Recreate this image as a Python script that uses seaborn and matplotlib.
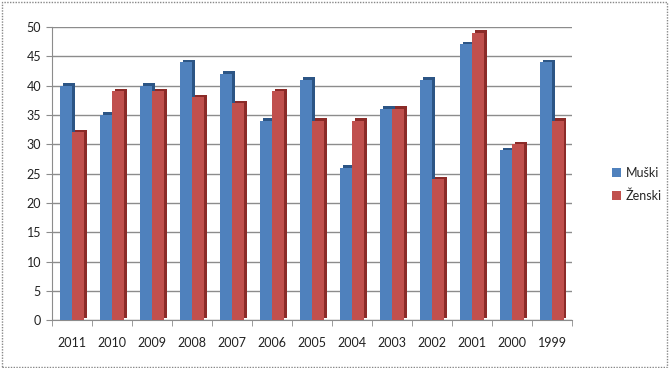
import pandas as pd
import matplotlib
matplotlib.use("Agg")
import matplotlib.pyplot as plt
import matplotlib.transforms as mtransforms
from matplotlib import patches
import seaborn as sns

years = ["2011", "2010", "2009", "2008", "2007", "2006", "2005",
         "2004", "2003", "2002", "2001", "2000", "1999"]
muski = [40, 35, 40, 44, 42, 34, 41, 26, 36, 41, 47, 29, 44]
zenski = [32, 39, 39, 38, 37, 39, 34, 34, 36, 24, 49, 30, 34]
series = ["Muški", "Ženski"]
palette = {"Muški": "#4f81bd", "Ženski": "#c0504d"}
shade = {"Muški": "#2c5585", "Ženski": "#8b2b28"}

df = pd.DataFrame({"year": years * 2,
                   "value": muski + zenski,
                   "series": [series[0]] * len(years) + [series[1]] * len(years)})

sns.set_style("white")
plt.rcParams["font.family"] = ["Lato", "DejaVu Sans"]

fig = plt.figure(figsize=(6.69, 3.68), dpi=100)
ax = fig.add_axes([0.078, 0.130, 0.777, 0.797])

sns.barplot(data=df, x="year", y="value", hue="series", palette=palette,
            order=years, hue_order=series, width=0.6, ax=ax,
            edgecolor="none", saturation=1, legend=True, zorder=3)

# fake 3D depth: darker copy of each bar shifted up/right
offset = mtransforms.ScaledTranslation(2.5 / 100, 2.5 / 100, fig.dpi_scale_trans)
for i, bar in enumerate(list(ax.patches)):
    if bar.get_height() <= 0:
        continue
    s = series[0] if i < len(years) else series[1]
    depth = patches.Rectangle(bar.get_xy(), bar.get_width(), bar.get_height(),
                              transform=ax.transData + offset,
                              facecolor=shade[s], edgecolor="none", zorder=2)
    ax.add_patch(depth)

ax.set_ylim(0, 50)
ax.set_yticks(range(0, 51, 5))
ax.set_xlim(-0.5, len(years) - 0.5)
ax.set_xlabel("")
ax.set_ylabel("")
ax.yaxis.grid(True, color="#8c8c8c", linewidth=1)
ax.set_axisbelow(True)
for side in ["top", "right"]:
    ax.spines[side].set_visible(False)
for side in ["left", "bottom"]:
    ax.spines[side].set_color("#8c8c8c")
ax.tick_params(axis="y", length=4, color="#8c8c8c", labelsize=9,
               labelcolor="#222222", pad=4, left=True)
ax.tick_params(axis="x", length=0, labelsize=9, labelcolor="#222222", pad=12)
ax.set_xticks([i - 0.5 for i in range(len(years) + 1)], minor=True)
ax.tick_params(axis="x", which="minor", length=4, color="#8c8c8c", bottom=True)

leg = ax.legend(loc="center left", bbox_to_anchor=(1.055, 0.464), frameon=False,
                fontsize=9, handlelength=0.7, handleheight=0.7,
                handletextpad=0.4, labelspacing=0.85)

border = patches.Rectangle((0.003, 0.004), 0.994, 0.99, transform=fig.transFigure,
                           fill=False, edgecolor="#888888", linestyle=(0, (1, 1)),
                           linewidth=1)
fig.patches.append(border)

fig.savefig("out.png", dpi=100)
